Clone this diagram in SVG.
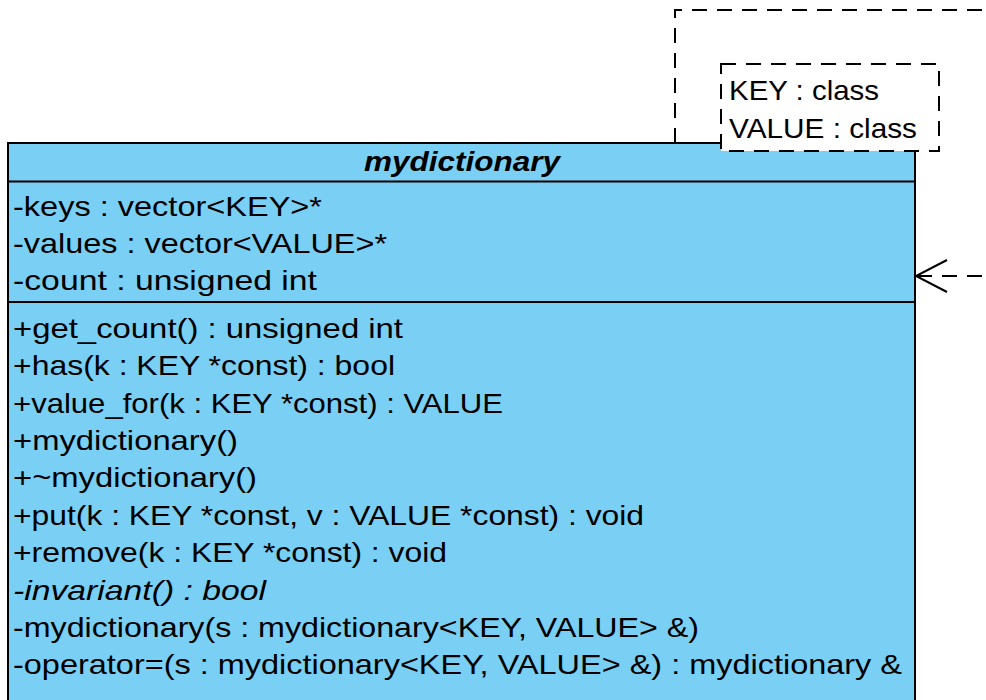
<svg xmlns="http://www.w3.org/2000/svg" width="986" height="700" viewBox="0 0 986 700">
<style>
text{font-family:"Liberation Sans",Arial,sans-serif;font-size:28px;fill:#000}
.hdr{font-weight:bold;font-style:italic}
.it{font-style:italic}
.box{fill:#7ACFF4;stroke:#000;stroke-width:2}
.ln{stroke:#000;stroke-width:2;fill:none}
.dash{stroke:#000;stroke-width:2;fill:none;stroke-dasharray:15 10}
</style>
<rect width="986" height="700" fill="#fff"/>
<g id="outer-template-frame">
<path class="dash" d="M675,143 V10 H990"/>
</g>
<g id="mydictionary">
<rect class="box" x="8" y="143" width="907" height="590"/>
<line class="ln" x1="8" y1="181.5" x2="915" y2="181.5"/>
<line class="ln" x1="8" y1="302" x2="915" y2="302"/>
<text class="hdr" x="462" y="171" text-anchor="middle" textLength="196" lengthAdjust="spacingAndGlyphs">mydictionary</text>
<text x="13" y="215.5" textLength="309" lengthAdjust="spacingAndGlyphs">-keys : vector&lt;KEY&gt;*</text>
<text x="13" y="252.5" textLength="374" lengthAdjust="spacingAndGlyphs">-values : vector&lt;VALUE&gt;*</text>
<text x="13" y="290" textLength="304" lengthAdjust="spacingAndGlyphs">-count : unsigned int</text>
<text x="13" y="338" textLength="390" lengthAdjust="spacingAndGlyphs">+get_count() : unsigned int</text>
<text x="13" y="375" textLength="382" lengthAdjust="spacingAndGlyphs">+has(k : KEY *const) : bool</text>
<text x="13" y="412.5" textLength="490" lengthAdjust="spacingAndGlyphs">+value_for(k : KEY *const) : VALUE</text>
<text x="13" y="450" textLength="225" lengthAdjust="spacingAndGlyphs">+mydictionary()</text>
<text x="13" y="487" textLength="244" lengthAdjust="spacingAndGlyphs">+~mydictionary()</text>
<text x="13" y="525" textLength="631" lengthAdjust="spacingAndGlyphs">+put(k : KEY *const, v : VALUE *const) : void</text>
<text x="13" y="562" textLength="434" lengthAdjust="spacingAndGlyphs">+remove(k : KEY *const) : void</text>
<text class="it" x="13" y="599.5" textLength="253" lengthAdjust="spacingAndGlyphs">-invariant() : bool</text>
<text x="13" y="637" textLength="686" lengthAdjust="spacingAndGlyphs">-mydictionary(s : mydictionary&lt;KEY, VALUE&gt; &amp;)</text>
<text x="13" y="674" textLength="889" lengthAdjust="spacingAndGlyphs">-operator=(s : mydictionary&lt;KEY, VALUE&gt; &amp;) : mydictionary &amp;</text>
</g>
<g id="template-parameters">
<rect x="721" y="64" width="218" height="87" fill="#fff" stroke="#000" stroke-width="2" stroke-dasharray="15 10"/>
<text x="729" y="100" textLength="150" lengthAdjust="spacingAndGlyphs">KEY : class</text>
<text x="729" y="138" textLength="188" lengthAdjust="spacingAndGlyphs">VALUE : class</text>
</g>
<g id="connectors">
<line class="dash" x1="917" y1="276" x2="990" y2="276"/>
<polyline class="ln" points="947,260 916,276 947,292"/>
</g>
</svg>
